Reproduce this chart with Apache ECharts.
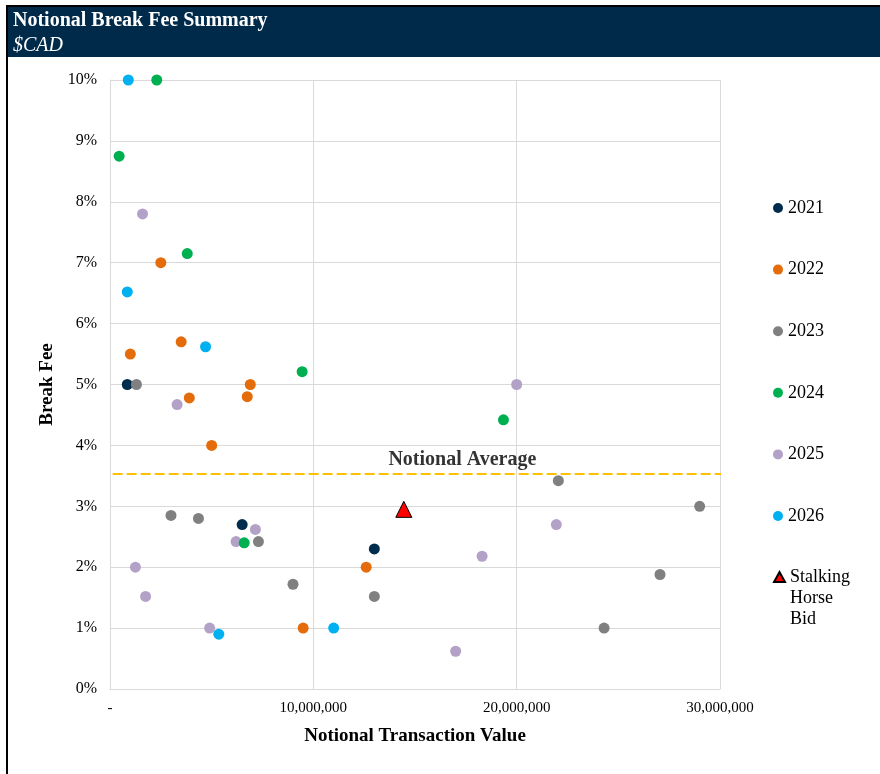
<!DOCTYPE html>
<html>
<head>
<meta charset="utf-8">
<script src="https://cdn.jsdelivr.net/npm/echarts@6/dist/echarts.min.js"></script>
<style>
html,body{margin:0;padding:0;background:#fff;}
#chart{width:880px;height:774px;}
</style>
</head>
<body>
<div id="chart"></div>
<script>
// Break fee (%) vs notional transaction value ($CAD)
const s2021 = [[850000, 5.0], [6500000, 2.7], [13000000, 2.3]];
const s2022 = [[1000000, 5.5], [2500000, 7.0], [3500000, 5.7], [6900000, 5.0], [3900000, 4.78],
               [6750000, 4.8], [5000000, 4.0], [9500000, 1.0], [12600000, 2.0]];
const s2023 = [[1300000, 5.0], [3000000, 2.85], [4350000, 2.8], [7300000, 2.42], [9000000, 1.72],
               [13000000, 1.52], [22050000, 3.42], [29000000, 3.0], [27050000, 1.88], [24300000, 1.0]];
const s2024 = [[2300000, 10.0], [450000, 8.75], [3800000, 7.15], [9450000, 5.21], [19350000, 4.42], [6600000, 2.4]];
const s2025 = [[1600000, 7.8], [3300000, 4.67], [20000000, 5.0], [21950000, 2.7], [18300000, 2.18],
               [17000000, 0.62], [1250000, 2.0], [1750000, 1.52], [4900000, 1.0], [6200000, 2.42], [7150000, 2.62]];
const s2026 = [[900000, 10.0], [850000, 6.52], [4700000, 5.62], [5350000, 0.9], [11000000, 1.0]];
const stalkingHorse = [[14450000, 2.95]];
const notionalAverage = 3.53;
const averageSpan = [130000, 30700000];
const averageLabelX = 17330000;
const yearNames = ['2021', '2022', '2023', '2024', '2025', '2026'];
const yearColors = ['#002C4D', '#E46C0A', '#808080', '#00B050', '#B3A2C7', '#00B0F0'];
const yearData = [s2021, s2022, s2023, s2024, s2025, s2026];
const stalkingName = 'Stalking\nHorse\nBid';

const FONT = '"Liberation Serif", "Times New Roman", serif';

const series = yearNames.map((n, i) => ({
  name: n,
  type: 'scatter',
  data: yearData[i],
  symbol: 'circle',
  symbolSize: 11,
  clip: false,
  z: n === '2024' ? 3 : 2,
  itemStyle: { color: yearColors[i], opacity: 1 }
}));

series.push({
  name: stalkingName,
  type: 'scatter',
  data: stalkingHorse,
  symbol: 'triangle',
  symbolSize: 16,
  clip: false,
  z: 4,
  itemStyle: { color: '#FF0000', borderColor: '#000000', borderWidth: 1, opacity: 1 }
});

series.push({
  name: 'avgLine',
  type: 'line',
  data: averageSpan.map(x => [x, notionalAverage]),
  symbol: 'none',
  clip: false,
  silent: true,
  z: 1,
  lineStyle: { color: '#FFC000', width: 2, type: [10, 4] }
});

series.push({
  name: 'avgLabel',
  type: 'scatter',
  data: [[averageLabelX, notionalAverage]],
  symbolSize: 0,
  clip: false,
  silent: true,
  label: {
    show: true,
    position: 'top',
    distance: 4,
    formatter: 'Notional Average',
    fontFamily: FONT,
    fontWeight: 'bold',
    fontSize: 20,
    lineHeight: 20,
    color: '#000'
  }
});

const chart = echarts.init(document.getElementById('chart'), null, { renderer: 'canvas' });
chart.setOption({
  animation: false,
  backgroundColor: '#ffffff',
  graphic: [
    { type: 'rect', shape: { x: 8, y: 7, width: 872, height: 50 }, style: { fill: '#002A4A' }, z: -10 },
    { type: 'rect', shape: { x: 6, y: 5, width: 874, height: 2 }, style: { fill: '#000' }, z: -9 },
    { type: 'rect', shape: { x: 6, y: 5, width: 2, height: 769 }, style: { fill: '#000' }, z: -9 }
  ],
  title: {
    text: 'Notional Break Fee Summary',
    subtext: '$CAD',
    left: 13,
    top: 10,
    padding: 0,
    itemGap: 4,
    textStyle: { fontFamily: FONT, fontWeight: 'bold', fontSize: 20, lineHeight: 21, color: '#fff' },
    subtextStyle: { fontFamily: FONT, fontStyle: 'italic', fontSize: 20, lineHeight: 21, color: '#fff' }
  },
  legend: [
    {
      orient: 'vertical',
      left: 773,
      top: 197.5,
      padding: 0,
      itemGap: 40.6,
      itemWidth: 10,
      itemHeight: 10,
      icon: 'circle',
      data: yearNames,
      selectedMode: false,
      textStyle: { fontFamily: FONT, fontSize: 18, lineHeight: 21, color: '#000' }
    },
    {
      orient: 'vertical',
      left: 773,
      top: 524.5,
      padding: 0,
      itemWidth: 11,
      itemHeight: 10,
      icon: 'triangle',
      data: [stalkingName],
      selectedMode: false,
      formatter: name => '\n\n' + name,
      textStyle: { fontFamily: FONT, fontSize: 18, lineHeight: 21, color: '#000' }
    }
  ],
  grid: { left: 110, right: 160, top: 80, bottom: 85, containLabel: false },
  xAxis: {
    type: 'value',
    min: 0,
    max: 30000000,
    interval: 10000000,
    name: 'Notional Transaction Value',
    nameLocation: 'middle',
    nameGap: 38,
    nameTextStyle: { fontFamily: FONT, fontWeight: 'bold', fontSize: 19, color: '#000' },
    axisLine: { show: true, lineStyle: { color: '#D9D9D9', width: 1 } },
    axisTick: { show: false },
    splitLine: { show: true, lineStyle: { color: '#D9D9D9', width: 1 } },
    axisLabel: {
      margin: 12,
      fontFamily: FONT,
      fontSize: 15,
      color: '#000',
      formatter: v => v === 0 ? '-' : v.toLocaleString('en-US')
    }
  },
  yAxis: {
    type: 'value',
    min: 0,
    max: 10,
    interval: 1,
    name: 'Break Fee',
    nameLocation: 'middle',
    nameRotate: 90,
    nameGap: 52,
    nameTextStyle: { fontFamily: FONT, fontWeight: 'bold', fontSize: 19, color: '#000' },
    axisLine: { show: true, lineStyle: { color: '#D9D9D9', width: 1 } },
    axisTick: { show: false },
    splitLine: { show: true, lineStyle: { color: '#D9D9D9', width: 1 } },
    axisLabel: { margin: 13, fontFamily: FONT, fontSize: 16, color: '#000', formatter: '{value}%' }
  },
  series: series
});
</script>
</body>
</html>
